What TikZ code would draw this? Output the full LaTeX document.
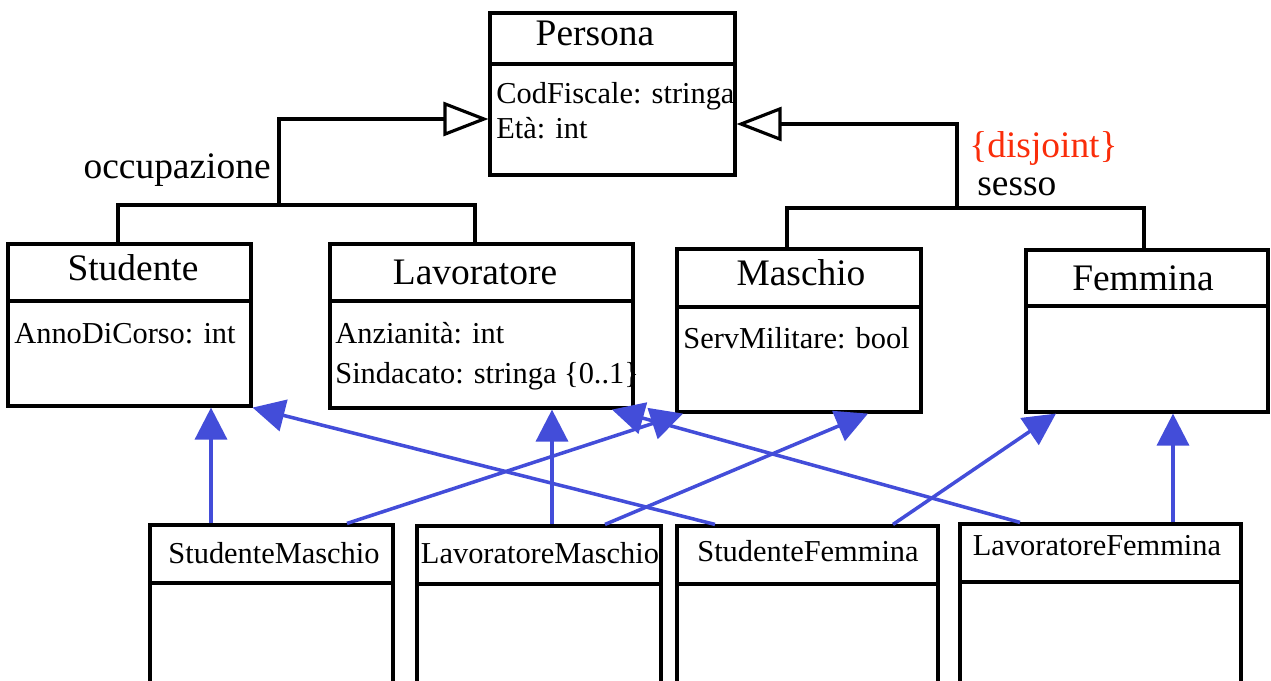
\documentclass[tikz,border=0pt]{standalone}
\usepackage{fontspec}
\setmainfont{Liberation Serif}
\usetikzlibrary{arrows.meta,positioning,fit}
\definecolor{isa_blue}{RGB}{67,77,217}
\definecolor{constr_red}{RGB}{250,45,10}

\begin{document}
\begin{tikzpicture}[x=0.2mm, y=-0.2mm,
    classbox/.style={draw, line width=1.8pt, inner sep=0pt},
    bigtext/.style={font=\fontsize{21.3}{25}\selectfont, inner sep=0pt},
    classname/.style={bigtext, anchor=base},
    subname/.style={font=\fontsize{17.3}{21}\selectfont, anchor=base, inner sep=0pt},
    attr/.style={font=\fontsize{17.3}{21}\selectfont, anchor=base west, inner sep=0pt},
    genline/.style={line width=1.8pt},
    gen/.style={genline, -{Triangle[open, length=9mm, width=6.8mm]}},
    isa/.style={line width=2pt, isa_blue, -{Triangle[length=6.4mm, width=6.4mm]}}]
  \clip (0,0) rectangle (1271,680);
  % Persona
  \node[classbox, fit={(490,13) (735,175)}] (persona) {};
  \draw[genline] (persona.west |- 0,64) -- (persona.east |- 0,64);
  \node[classname] (persona-n) at (595,45) {Persona};
  \node[attr] (persona-a1) at (496,103) {CodFiscale: stringa};
  \node[attr] (persona-a2) at (496,138) {Età: int};
  % occupazione
  \node[classbox, fit={(8,244) (251,406)}] (studente) {};
  \draw[genline] (studente.west |- 0,301) -- (studente.east |- 0,301);
  \node[classname] (studente-n) at (133,280) {Studente};
  \node[attr] (studente-a1) at (14,343) {AnnoDiCorso: int};
  \node[classbox, fit={(330,244) (633,408)}] (lavoratore) {};
  \draw[genline] (lavoratore.west |- 0,301) -- (lavoratore.east |- 0,301);
  \node[classname] (lavoratore-n) at (475,284) {Lavoratore};
  \node[attr] (lavoratore-a1) at (335,343) {Anzianità: int};
  \node[attr] (lavoratore-a2) at (335,383) {Sindacato: stringa \{0..1\}};
  % sesso
  \node[classbox, fit={(677,249) (921,412)}] (maschio) {};
  \draw[genline] (maschio.west |- 0,307) -- (maschio.east |- 0,307);
  \node[classname] (maschio-n) at (801,285) {Maschio};
  \node[attr] (maschio-a1) at (683,348) {ServMilitare: bool};
  \node[classbox, fit={(1026,250) (1268,412)}] (femmina) {};
  \draw[genline] (femmina.west |- 0,306) -- (femmina.east |- 0,306);
  \node[classname] (femmina-n) at (1143,290) {Femmina};
  % Sottoclassi
  \node[classbox, fit={(150,525) (393,700)}] (sm) {};
  \draw[genline] (sm.west |- 0,583) -- (sm.east |- 0,583);
  \node[subname] (sm-n) at (274,563) {StudenteMaschio};
  \node[classbox, fit={(417,526) (661,700)}] (lm) {};
  \draw[genline] (lm.west |- 0,584) -- (lm.east |- 0,584);
  \node[subname] (lm-n) at (540,563) {LavoratoreMaschio};
  \node[classbox, fit={(677,526) (938,700)}] (sf) {};
  \draw[genline] (sf.west |- 0,584) -- (sf.east |- 0,584);
  \node[subname] (sf-n) at (808,561) {StudenteFemmina};
  \node[classbox, fit={(960,524) (1241,700)}] (lf) {};
  \draw[genline] (lf.west |- 0,582) -- (lf.east |- 0,582);
  \node[subname] (lf-n) at (1097,555) {LavoratoreFemmina};
  % Generalizzazioni
  \coordinate (occ) at (279,205);
  \draw[genline] (studente.north -| 118,0) -- (118,205) -- (475,205)
    -- (lavoratore.north -| 475,0);
  \draw[gen] (occ) |- (persona.west |- 0,119);
  \node[bigtext, anchor=base east] (occ-l) at (271,178) {occupazione};
  \coordinate (sex) at (957,208);
  \draw[genline] (maschio.north -| 787,0) -- (787,208) -- (1144,208)
    -- (femmina.north -| 1144,0);
  \draw[gen] (sex) |- (persona.east |- 0,124);
  \node[bigtext, anchor=base west, text=constr_red] (sex-c) at (969,157) {\{disjoint\}};
  \node[bigtext, anchor=base west] (sex-l) at (977,195) {sesso};
  % Ereditarieta multipla
  \draw[isa] (sm.north -| 211,0) -- (studente.south -| 211,0);
  \draw[isa] (sm.north -| 347,0) -- (maschio.south -| 683,0);
  \draw[isa] (lm.north -| 552,0) -- (lavoratore.south -| 552,0);
  \draw[isa] (lm.north -| 605,0) -- (maschio.south -| 868,0);
  \draw[isa] (sf.north -| 715,0) -- (studente.south east);
  \draw[isa] (sf.north -| 893,0) -- (femmina.south -| 1056,0);
  \draw[isa] (lf.north -| 1020,0) -- (lavoratore.south -| 612,0);
  \draw[isa] (lf.north -| 1173,0) -- (femmina.south -| 1173,0);
\end{tikzpicture}
\end{document}
